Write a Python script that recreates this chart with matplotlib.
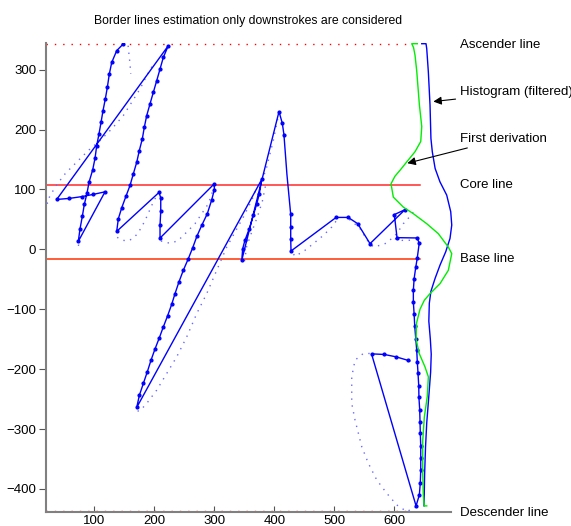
import matplotlib
matplotlib.use("Agg")
import matplotlib.pyplot as plt

plt.rcParams["font.family"] = ["Liberation Sans", "DejaVu Sans"]

# downstroke samples, concatenated in writing order (jumps join the strokes)
stroke_x = [148.3, 137.3, 129, 125, 121.7, 118.3, 114.5, 111.2, 107.8, 104, 101.2, 97.3, 91.2, 87.8, 83.3, 80, 76.2, 73.3,
            117.8, 98, 79, 58, 37.3,
            223.3, 215, 209.5, 204, 198.3, 192.8, 187.3, 183.3, 180, 175, 170.7, 165, 159.5, 152.8, 145.7, 140, 137.3,
            207.8, 210.7, 210.7, 209.5, 209.5,
            300, 300, 295.7, 288.3, 279, 271, 264, 256.7, 248.3, 241, 234.5, 229, 222.3, 215, 208.3, 201, 194.5, 188.3, 181.7, 175, 170.7,
            379, 375, 370.7, 365, 358.3, 351, 347.3, 345.7,
            407.8, 413.3, 416, 421, 427.3, 427.3, 427.3, 427.8,
            503, 523, 539, 559.5,
            617.8, 600, 604.5, 638, 641.5, 638.3, 635.7, 633, 631.7, 631.7, 633, 634, 635.7, 637.3, 638.3, 639.5, 640.7, 641,
            642.3, 642.8, 643.3, 644, 644, 644, 643.3, 641.7, 636.2,
            562, 583.3, 603, 623.3]
stroke_y = [343, 331.7, 312, 292.8, 270.5, 251, 231.7, 212, 192.8, 173.3, 152.2, 132.8, 112.2, 93.8, 75, 55, 34.5, 13.3,
            96, 91.7, 88, 85, 83.3,
            340, 320.5, 301, 281.7, 262, 242.8, 223.3, 203.8, 184.5, 165, 145.5, 126, 106.7, 88.8, 69.5, 51, 30,
            95, 86, 64, 40, 18.8,
            109.5, 99.5, 82.8, 59.5, 40, 22, 2.8, -15.5, -35, -54.5, -73.9, -91.7, -110.5, -129.5, -147.8, -166.7, -185, -204.5, -223.9, -243.9, -263.9,
            116.7, 92.8, 76, 56.7, 34.5, 15, 1.2, -18.3,
            230, 210.5, 191.7, 125, 58.3, 37.2, 17.8, -2.8,
            53.3, 53.3, 42.8, 9.5,
            66.3, 58, 19.5, 19, 10.5, -13.8, -30, -48.9, -68.3, -87.8, -108.3, -128.3, -148.9, -168.3, -187.8, -207.2, -228.3, -247.2,
            -268.3, -287.8, -307.2, -328.3, -348.9, -368.3, -389.5, -410, -428.3,
            -174.5, -175.5, -179.5, -185.5]
# the bend in the fast part of the k stem carries no dot
plain_idx = [77]

# full pen trajectory, visible parts
traj_pieces = [
    ([22, 20.7, 26.2, 34.5, 42.8, 51.2, 59.5, 73.3, 90, 109.5, 129, 148.3, 162.3, 176.2, 187.3, 196],
     [76, 80.5, 88.8, 103.8, 115, 126, 134.5, 148.3, 165, 181.7, 201, 223.3, 245.5, 267.8, 290, 305]),
    ([156.3, 158, 159.5, 160.7], [340, 323, 309.5, 292.8]),
    ([74, 71], [8, -2]),
    ([138, 148, 157, 165, 172, 178, 184, 189, 195, 201, 206],
     [20, 15, 14, 19, 26, 36, 47, 58, 72, 84, 94]),
    ([211, 220, 229, 240, 254, 267.8, 279, 290, 295.7, 300],
     [14, 11, 10.5, 15, 28.8, 42.8, 59.5, 76, 92.8, 106]),
    ([172, 176.2, 187.3, 204, 220.7, 237.3, 254, 270.7, 287.3, 304, 320.7, 334.5, 348.3, 362.3, 373.3, 381.7, 387.3,
      392.8, 398.3, 404, 407],
     [-270, -269.5, -257.2, -235, -207.2, -179.5, -146.2, -107.2, -73.9, -35, 3.8, 28.8, 53.8, 81.7, 109.5, 120.5, 137.2,
      159.5, 181.7, 209.5, 225]),
    ([385, 380, 372, 362, 354, 350], [105, 80, 55, 28, 5, -22]),
    ([432, 434.5, 451, 465, 481.7, 495.7, 505], [-8, -11.7, -1.7, 9.5, 23.3, 37.2, 50]),
    ([525, 542, 555, 565, 576, 587.3, 604, 615, 625, 631.7],
     [50, 36, 15, 4, 6.7, 10.5, 26, 42.8, 53.8, 62.2]),
    ([601, 612.3, 623.3, 634], [17.8, 15, 15, 16]),
    ([636, 620.7, 604, 587.3, 570.7, 556.7, 545.7, 534.5, 529, 529, 534.5, 548.3, 559.5],
     [-430, -437.8, -426.7, -407.2, -385, -357.2, -329.5, -285, -257.2, -212.8, -185, -173.9, -173.9]),
    ([625, 631.7], [-186, -187.8]),
]

# filtered histogram of downstroke heights, drawn sideways
hist_x = [645.7, 652.8, 654, 656.7, 659.5, 661, 663.3, 668, 676, 687.3, 694, 695.7, 692.8, 685.7, 676.2, 668, 661,
          658.3, 657.5, 660, 661.5, 660.5, 657.5, 654, 652, 650.5, 649.5]
hist_y = [343.3, 343.3, 335, 296, 240.5, 185, 162.8, 135, 112.8, 90.5, 62.8, 40.5, 18.3, -3.9, -26.2, -48.3, -70,
          -90, -120, -150, -175, -205, -245, -290, -330, -375, -428.3]

# its first derivation
deriv_x = [638.3, 629, 632, 634.5, 637.3, 641.7, 645.7, 644, 634.5, 620.7, 609.5, 601, 594.5, 598.3, 615, 631.7, 654,
           673.3, 690, 695.7, 690, 676.2, 659.5, 650, 642.8, 637, 636.2, 641.5, 651, 656.7, 655, 650, 647.3, 647.3,
           648.3, 650, 654]
deriv_y = [343.3, 343.3, 337, 324, 298, 242, 205, 180, 163, 146, 132, 122, 109.5, 87.2, 70.5, 59.5, 42.8,
           26.2, 3.8, -7.2, -35, -57.2, -73.9, -85, -100, -123, -150, -174, -196, -212.8, -245, -280, -320, -374,
           -410, -428.3, -428.3]

ascender = 343
core = 108
base = -15.5
descender = -437
line_x0, line_x1 = 20, 643
x_ticks = [100, 200, 300, 400, 500, 600]
y_ticks = [-400, -300, -200, -100, 0, 100, 200, 300]

fig = plt.figure(figsize=(5.71, 5.26), dpi=100)
ax = fig.add_axes([0.0806, 0.0272, 0.7093, 0.8905])

ax.plot([line_x0, 625], [ascender, ascender], color="red", lw=1, ls=(0, (1, 5)), clip_on=False)
ax.plot([line_x0, 625], [descender, descender], color="red", lw=1, ls=(0, (1, 5)), clip_on=False, zorder=1)
ax.plot([line_x0, line_x1], [core, core], color="#ff2a2a", lw=1.1)
ax.plot([line_x0, line_x1], [base, base], color="#ff3300", lw=1.1)

for px, py in traj_pieces:
    ax.plot(px, py, color="#6a6aff", lw=1, ls=(0, (1, 4)))
dotted_idx = [i for i in range(len(stroke_x)) if i not in plain_idx]
ax.plot(stroke_x, stroke_y, color="#0000ff", lw=1, marker=".", ms=4, markevery=dotted_idx)

ax.plot(hist_x, hist_y, color="#0000ff", lw=1, clip_on=False)
ax.plot(deriv_x, deriv_y, color="#00ee00", lw=1, clip_on=False)

lab_x = 709
arrow = dict(arrowstyle="-|>", color="black", lw=0.8, mutation_scale=12, shrinkA=1, shrinkB=0)
fs = 9.5
ax.text(lab_x, 341, "Ascender line", fontsize=fs, va="center")
ax.annotate("Histogram (filtered)", xy=(665, 246.7), xytext=(lab_x, 262), fontsize=fs, va="center",
            annotation_clip=False, arrowprops=arrow)
ax.annotate("First derivation", xy=(621.7, 143.8), xytext=(lab_x, 184.5), fontsize=fs, va="center",
            annotation_clip=False, arrowprops=arrow)
ax.text(lab_x, core, "Core line", fontsize=fs, va="center")
ax.text(lab_x, base, "Base line", fontsize=fs, va="center")
ax.text(lab_x, -441, "Descender line", fontsize=fs, va="center")

ax.set_xlim(19.5, 694.5)
ax.set_ylim(-438, 344)
ax.set_xticks(x_ticks)
ax.set_yticks(y_ticks)
ax.tick_params(axis="x", direction="in", length=4, color="#555555", labelsize=fs, pad=2.5)
ax.tick_params(axis="y", direction="out", length=5, color="#555555", labelsize=fs, pad=2)
for side in ["top", "right"]:
    ax.spines[side].set_visible(False)
for side in ["left", "bottom"]:
    ax.spines[side].set_color("#808080")
    ax.spines[side].set_linewidth(1.5)
ax.set_title("Border lines estimation only downstrokes are considered", fontsize=8.8, pad=14)

fig.savefig("out.png", dpi=100)
